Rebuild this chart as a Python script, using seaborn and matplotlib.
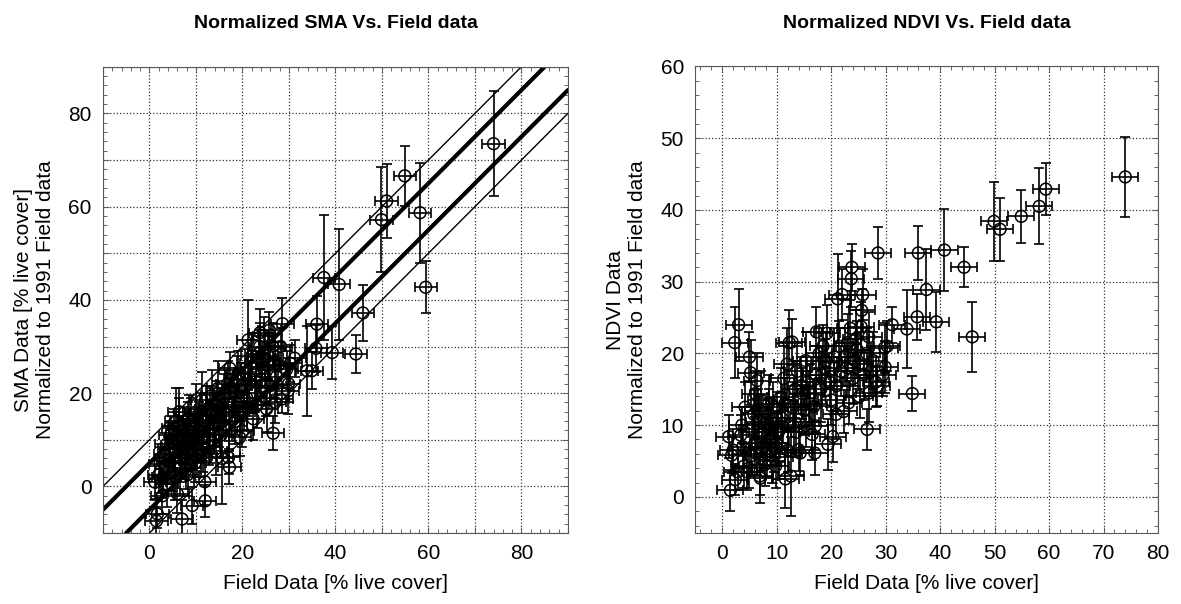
import matplotlib
matplotlib.use("Agg")
import matplotlib.pyplot as plt
from matplotlib.ticker import MultipleLocator, FuncFormatter
import pandas as pd
import seaborn as sns

# field data [% live cover] (shared by both panels)
field = [74.0, 59.4, 58.2, 54.9, 49.9, 51.0, 45.9, 44.4, 40.8, 39.3,
         37.5, 36.0, 35.8, 34.9, 33.9, 31.2, 29.8, 29.9, 28.6, 28.4,
         26.6, 23.8, 23.7, 25.8, 22.0, 21.2, 25.6, 17.3,
         1.2, 1.5, 1.7, 2.3, 2.4, 3.0, 3.4, 3.6, 4.0, 4.5,
         4.9, 5.0, 5.2, 5.3, 5.8, 6.0, 6.1, 6.4, 6.6, 6.9,
         7.0, 7.3, 7.6, 8.0, 8.2, 8.5, 8.8, 9.2, 9.5, 9.8,
         10.0, 10.3, 10.7, 11.0, 11.3, 11.6, 11.9, 12.0, 12.3, 12.6,
         12.8, 13.1, 13.4, 13.8, 14.0, 14.3, 14.7, 15.0, 15.3, 15.6,
         16.0, 16.5, 16.8, 17.0, 17.1, 17.2, 17.8, 18.1, 18.5, 18.8,
         19.2, 19.4, 19.7, 20.0, 20.3, 20.6, 20.9, 21.4, 21.8, 22.3,
         22.6, 23.0, 23.2, 23.5, 24.0, 24.3, 24.6, 25.0, 25.2, 25.5,
         26.0, 26.5, 26.9, 27.0, 27.3, 27.7, 28.2, 30.3, 29.5,
         2.0, 2.8, 3.8, 4.2, 5.5, 6.3, 6.8, 7.1, 7.8, 8.3,
         8.6, 9.0, 9.4, 9.9, 10.5, 10.9, 11.5, 12.1, 13.0, 13.6,
         14.5, 15.4, 16.2, 18.3, 19.0, 21.0, 22.9, 24.8]
field_err = 2.4

sma = [73.5, 42.7, 58.7, 66.6, 57.2, 61.2, 37.2, 28.4, 43.3, 28.7,
       44.8, 34.8, 29.6, 24.8, 24.8, 27.5, 20.5, 22.0, 34.9, 18.7,
       11.4, 33.0, 30.0, 33.5, 28.0, 31.4, 26.0, 25.3,
       0.9, -7.4, -5.9, 4.9, 1.5, 2.0, 7.0, 9.0, 5.5, 11.0,
       3.0, 8.5, 12.5, 6.0, 14.0, -1.6, 10.0, 16.0, 4.0, 8.0,
       -7.0, 12.0, 6.5, 10.5, 2.5, 14.5, 7.5, -4.1, 11.5, 5.0,
       16.0, 9.0, 13.0, 6.5, 18.5, 10.5, 1.0, -3.1, 14.0, 12.0,
       8.5, 16.5, 19.5, 11.0, 15.0, 7.5, 21.0, 13.5, 17.0, 6.0,
       19.0, 15.5, 22.0, 6.2, 12.0, 4.1, 17.5, 20.5, 14.0, 23.0,
       18.0, 10.5, 21.5, 11.9, 16.0, 24.5, 19.0, 22.0, 26.5, 14.5,
       20.0, 24.0, 17.5, 28.5, 21.5, 25.5, 32.3, 19.0, 16.6, 28.0,
       21.6, 30.1, 25.9, 18.0, 23.5, 26.0, 30.0, 26.4, 25.1,
       2.5, -2.0, 0.5, 8.0, 2.0, 13.0, 6.0, 10.0, 3.5, 12.0,
       9.5, 14.0, 7.0, 10.5, 12.0, 15.0, 8.0, 16.5, 10.0, 13.5,
       17.5, 11.0, 20.0, 16.0, 24.0, 17.0, 22.5, 27.5]
sma_err = [11.2, 5.6, 10.7, 6.4, 11.2, 7.9, 6.0, 4.1, 12.0, 5.7,
           13.4, 6.0, 5.0, 4.0, 9.7, 4.0, 5.0, 4.0, 5.4, 3.0,
           3.7, 5.0, 5.0, 4.0, 5.0, 8.6, 5.0, 3.5,
           3.5, 3.0, 3.0, 3.5, 4.0, 3.0, 4.5, 4.0, 5.0, 4.0,
           4.0, 5.0, 4.0, 5.0, 7.0, 4.0, 5.0, 5.0, 6.0, 4.0,
           4.0, 5.0, 5.0, 6.0, 4.5, 5.0, 4.0, 4.0, 5.0, 4.0,
           6.0, 5.0, 5.0, 4.5, 6.0, 5.0, 5.0, 3.5, 6.0, 5.0,
           4.0, 5.0, 5.5, 4.0, 5.0, 5.0, 6.0, 5.0, 4.0, 9.8,
           5.0, 4.5, 5.0, 3.5, 4.0, 3.5, 4.0, 4.5, 5.0, 5.0,
           4.0, 4.0, 5.0, 3.5, 4.0, 5.0, 4.0, 5.0, 5.0, 4.5,
           4.0, 5.0, 5.0, 5.0, 4.0, 4.5, 4.0, 4.0, 5.0, 5.0,
           4.0, 5.0, 5.0, 4.5, 4.0, 5.0, 4.0, 4.0, 4.0,
           4.0, 4.0, 5.0, 5.0, 5.0, 6.0, 5.0, 5.0, 4.0, 6.0,
           5.0, 5.0, 5.0, 5.0, 5.0, 5.0, 5.0, 5.0, 5.0, 5.0,
           5.0, 5.0, 5.0, 5.0, 5.0, 5.0, 5.0, 5.0]

ndvi = [44.6, 42.9, 40.5, 39.1, 38.4, 37.3, 22.3, 32.0, 34.4, 24.4,
        28.9, 34.0, 25.1, 14.4, 23.4, 24.0, 20.8, 18.1, 34.0, 15.4,
        9.4, 32.0, 30.4, 28.2, 28.2, 27.6, 26.0, 23.0,
        8.4, 0.9, 5.8, 21.5, 2.4, 24.0, 8.6, 10.0, 4.3, 3.5,
        4.0, 19.5, 17.3, 5.7, 11.5, 7.5, 14.4, 16.2, 12.0, 2.9,
        2.6, 9.0, 7.0, 10.3, 6.0, 13.0, 8.0, 5.0, 6.8, 4.3,
        11.0, 9.0, 13.9, 9.8, 16.5, 2.5, 18.5, 6.5, 21.5, 2.9,
        21.6, 9.8, 15.0, 17.5, 6.6, 6.1, 14.4, 12.1, 19.0, 16.0,
        13.0, 8.7, 12.6, 6.1, 9.9, 17.0, 20.0, 15.0, 21.0, 18.0,
        22.8, 7.3, 16.0, 13.5, 8.4, 19.5, 11.5, 21.0, 17.5, 11.9,
        19.5, 21.5, 13.1, 23.5, 16.5, 19.0, 22.0, 18.5, 14.0, 23.7,
        17.0, 20.0, 22.3, 14.5, 17.5, 19.0, 16.0, 21.0, 17.0,
        6.5, 3.5, 7.0, 12.5, 9.5, 6.0, 10.5, 13.5, 4.5, 8.5,
        11.5, 9.5, 12.5, 7.5, 5.5, 11.0, 13.0, 10.0, 12.5, 9.0,
        15.5, 10.5, 14.5, 17.0, 19.0, 15.5, 18.0, 20.5]
ndvi_err = [5.6, 3.6, 5.3, 3.7, 5.5, 4.4, 4.9, 2.8, 5.7, 4.2,
            5.7, 3.8, 3.2, 2.5, 5.4, 2.5, 3.5, 3.6, 3.6, 2.8,
            2.8, 3.3, 3.9, 3.5, 3.5, 6.2, 3.0, 3.5,
            3.0, 2.9, 2.5, 4.9, 2.2, 5.0, 2.8, 2.5, 3.0, 2.6,
            2.8, 3.5, 4.5, 2.6, 3.4, 3.0, 3.2, 3.8, 3.0, 2.7,
            3.5, 3.5, 3.0, 3.5, 3.2, 4.0, 3.0, 3.0, 3.3, 3.0,
            3.6, 3.0, 4.0, 3.0, 4.5, 4.0, 5.0, 3.0, 4.5, 5.5,
            3.2, 3.5, 4.0, 3.5, 3.0, 3.0, 3.5, 3.5, 4.0, 3.5,
            3.0, 3.5, 3.8, 3.0, 3.3, 4.0, 3.5, 4.5, 3.0, 4.0,
            4.0, 3.5, 3.5, 3.5, 3.5, 4.0, 3.5, 3.5, 3.5, 3.0,
            4.0, 4.0, 3.0, 4.0, 3.5, 3.5, 4.0, 3.5, 3.0, 3.5,
            3.5, 3.5, 3.5, 4.0, 3.5, 4.0, 3.5, 3.5, 3.0,
            3.0, 2.5, 3.0, 3.5, 3.0, 3.0, 3.5, 4.0, 3.0, 3.0,
            3.5, 3.5, 3.5, 3.0, 3.0, 3.5, 3.5, 3.5, 3.5, 3.5,
            4.0, 3.5, 4.0, 4.0, 4.0, 4.0, 4.0, 4.0]

# reference lines y = x + offset (thick, thin)
thick_offsets = [5, -5]
thin_offsets = [10, -10]

df = pd.DataFrame({'field': field, 'sma': sma, 'sma_err': sma_err,
                   'ndvi': ndvi, 'ndvi_err': ndvi_err})

sns.set_style('white')
plt.rcParams['font.family'] = ['Liberation Sans Narrow', 'Liberation Sans', 'DejaVu Sans']
plt.rcParams.update({'text.color': 'black', 'axes.labelcolor': 'black',
                     'xtick.labelcolor': 'black', 'ytick.labelcolor': 'black'})

fig = plt.figure(figsize=(11.81, 6.04), dpi=100)
ax1 = fig.add_axes([0.0872, 0.1175, 0.3937, 0.772])
ax2 = fig.add_axes([0.5885, 0.118, 0.392, 0.772])


def draw_panel(ax, ycol, ecol):
    ax.errorbar(df['field'], df[ycol], xerr=field_err, yerr=df[ecol],
                fmt='none', ecolor='black', elinewidth=1.2, capsize=3.5,
                capthick=1.2, zorder=3)
    sns.scatterplot(data=df, x='field', y=ycol, ax=ax, marker='o', s=72,
                    facecolor='none', edgecolor='black', linewidth=1.1,
                    zorder=4, legend=False)


draw_panel(ax1, 'sma', 'sma_err')
draw_panel(ax2, 'ndvi', 'ndvi_err')

for off in thick_offsets:
    ax1.axline((0, off), slope=1, color='black', lw=3.0, zorder=2)
for off in thin_offsets:
    ax1.axline((0, off), slope=1, color='black', lw=1.0, zorder=2)


def every20(v, pos):
    return f'{v:.0f}' if abs(v % 20) < 1e-6 and v >= 0 else ''


def nonneg(v, pos):
    return f'{v:.0f}' if v >= 0 else ''


ax1.set_xlim(-10, 90)
ax1.set_ylim(-10, 90)
ax2.set_xlim(-5, 80)
ax2.set_ylim(-5, 60)

for ax, fmt in [(ax1, every20), (ax2, nonneg)]:
    ax.xaxis.set_major_locator(MultipleLocator(10))
    ax.yaxis.set_major_locator(MultipleLocator(10))
    ax.xaxis.set_minor_locator(MultipleLocator(2))
    ax.yaxis.set_minor_locator(MultipleLocator(2))
    ax.xaxis.set_major_formatter(FuncFormatter(fmt))
    ax.yaxis.set_major_formatter(FuncFormatter(fmt))
    ax.grid(True, which='major', linestyle=':', color='0.2', linewidth=0.9)
    ax.tick_params(which='both', direction='in', top=True, right=True,
                   bottom=True, left=True, color='0.3', labelsize=15,
                   width=0.6)
    ax.tick_params(which='major', length=4, pad=8)
    ax.tick_params(which='minor', length=3)
    for sp in ax.spines.values():
        sp.set_color('0.35')
        sp.set_linewidth(0.8)
    ax.set_xlabel('Field Data [% live cover]', fontsize=15, labelpad=8)

ax1.set_ylabel('SMA Data [% live cover]\nNormalized to 1991 Field data',
               fontsize=15, labelpad=10)
ax2.set_ylabel('NDVI Data\nNormalized to 1991 Field data',
               fontsize=15, labelpad=10)
ax1.set_title('Normalized SMA Vs. Field data', fontsize=14, fontweight='bold', pad=28)
ax2.set_title('Normalized NDVI Vs. Field data', fontsize=14, fontweight='bold', pad=28)

fig.savefig('out.png', dpi=100)
